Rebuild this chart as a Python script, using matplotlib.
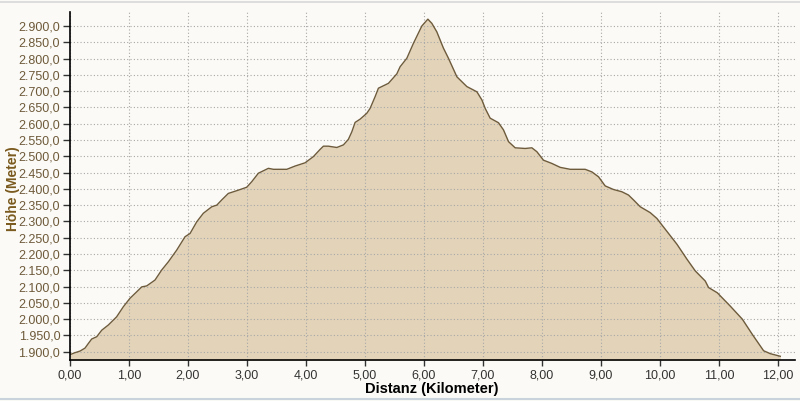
import matplotlib
matplotlib.use("Agg")
import matplotlib.pyplot as plt
from matplotlib.lines import Line2D
from matplotlib.ticker import FuncFormatter

# Höhenprofil (Distanz in km, Höhe in m)
dist_km = [0.0, 0.085, 0.17, 0.254, 0.31, 0.368, 0.453, 0.538, 0.65, 0.79,
           0.904, 1.017, 1.131, 1.216, 1.30, 1.441, 1.555, 1.667, 1.809, 1.95,
           2.035, 2.149, 2.26, 2.403, 2.488, 2.572, 2.684, 2.854, 2.996, 3.081,
           3.193, 3.363, 3.447, 3.675, 3.815, 3.985, 4.126, 4.239, 4.295, 4.38,
           4.523, 4.635, 4.719, 4.777, 4.833, 4.918, 5.031, 5.087, 5.172, 5.228,
           5.398, 5.54, 5.596, 5.71, 5.822, 5.964, 6.066, 6.134, 6.218, 6.33,
           6.415, 6.558, 6.727, 6.897, 6.982, 7.038, 7.122, 7.263, 7.348, 7.433,
           7.546, 7.716, 7.829, 7.914, 8.026, 8.168, 8.309, 8.479, 8.733, 8.847,
           8.959, 9.072, 9.213, 9.356, 9.467, 9.552, 9.666, 9.835, 9.949, 10.034,
           10.146, 10.288, 10.458, 10.599, 10.768, 10.824, 10.972, 11.192, 11.396, 11.574,
           11.757, 11.87, 12.04]
hoehe_m = [1891, 1897, 1902, 1911, 1925, 1939, 1946, 1966, 1982, 2007,
           2038, 2064, 2084, 2099, 2102, 2120, 2151, 2176, 2212, 2253,
           2263, 2299, 2325, 2345, 2350, 2366, 2386, 2396, 2405, 2422,
           2448, 2463, 2460, 2460, 2470, 2480, 2499, 2521, 2531, 2531,
           2527, 2535, 2552, 2575, 2604, 2614, 2632, 2647, 2683, 2709,
           2724, 2753, 2775, 2801, 2847, 2900, 2921, 2908, 2882, 2832,
           2801, 2744, 2714, 2698, 2673, 2647, 2617, 2603, 2581, 2545,
           2526, 2524, 2526, 2514, 2488, 2478, 2466, 2460, 2460, 2452,
           2437, 2409, 2398, 2391, 2381, 2366, 2345, 2327, 2309, 2289,
           2263, 2230, 2184, 2148, 2117, 2097, 2081, 2040, 2000, 1951,
           1903, 1894, 1886]

x_ticks = [0, 1, 2, 3, 4, 5, 6, 7, 8, 9, 10, 11, 12]
y_ticks = list(range(1900, 2901, 50))

bg = "#fbfaf6"
fig = plt.figure(figsize=(8, 4.01), dpi=100, facecolor=bg)
ax = fig.add_axes([0.0875, 0.1022, 0.9063, 0.8679], facecolor=bg)

ymin, ymax = 1874.5, 2943
ax.fill_between(dist_km, hoehe_m, ymin, color="#e3d4b9", lw=0, zorder=1)
ax.plot(dist_km, hoehe_m, color="#6e5b3c", lw=1.0, zorder=3)

ax.set_xlim(0, 12.29)
ax.set_ylim(ymin, ymax)
ax.set_xticks(x_ticks)
ax.set_yticks(y_ticks)


def de_num(v, dec):
    s = f"{v:,.{dec}f}"
    return s.replace(",", "X").replace(".", ",").replace("X", ".")


ax.xaxis.set_major_formatter(FuncFormatter(lambda v, p: de_num(v, 2)))
ax.yaxis.set_major_formatter(FuncFormatter(lambda v, p: de_num(v, 1)))

ax.grid(True, color="#a8a8a8", linestyle=(0, (1, 2)), lw=0.8, zorder=2)
ax.set_axisbelow(False)
for s in ["top", "right"]:
    ax.spines[s].set_visible(False)
for s in ["left", "bottom"]:
    ax.spines[s].set_color("black")
    ax.spines[s].set_linewidth(1.2)
    ax.spines[s].set_zorder(4)

ax.tick_params(axis="y", length=5, width=1, color="#333333", labelsize=9,
               labelcolor="#6e5a3a", pad=2)
ax.tick_params(axis="x", length=4, width=1, color="#333333", labelsize=9,
               labelcolor="#333333", pad=3)
for lab in ax.get_xticklabels() + ax.get_yticklabels():
    lab.set_fontfamily("Liberation Sans")

fig.text(0.54, 0.03, "Distanz (Kilometer)", ha="center", va="center",
         fontsize=10.5, fontweight="bold", family="Liberation Sans", color="black")
fig.text(0.016, 0.53, "Höhe (Meter)", ha="center", va="center", rotation=90,
         fontsize=10, fontweight="bold", family="Liberation Sans", color="#7a5a1e")

# feine Rahmenlinien oben und unten
fig.add_artist(Line2D([0, 1], [0.994, 0.994], color="#d8d8d8", lw=1.2))
fig.add_artist(Line2D([0, 1], [0.006, 0.006], color="#c9d3dc", lw=1.5))

fig.savefig("out.png", dpi=100, facecolor=bg)
